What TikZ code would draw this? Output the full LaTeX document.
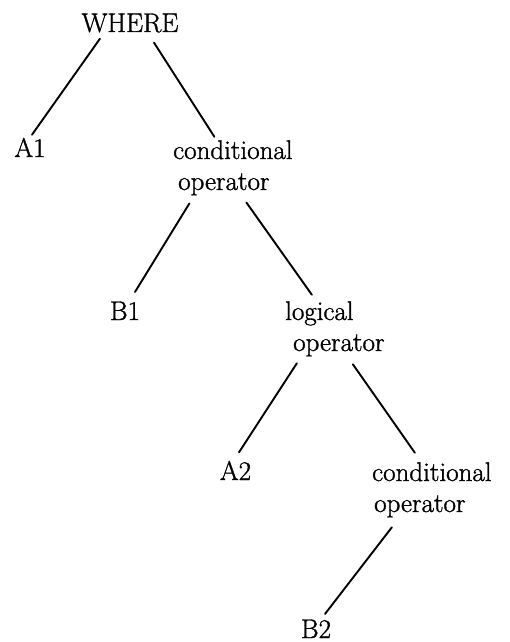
\documentclass[tikz,border=0pt]{standalone}
\usepackage{fontspec}
\newfontfamily\heavyrm{Latin Modern Roman}[FakeBold=1.2]
\newcommand\twoline[3]{\vtop{\hbox{#2}\hbox{\hspace{#1}#3}}}
\begin{document}
\begin{tikzpicture}[x=1pt,y=-1pt,
  lbl/.style={inner sep=0pt, font=\heavyrm\fontsize{27}{31}\selectfont},
  branch/.style={line width=1.9pt, line cap=round}]
\useasboundingbox (0,0) rectangle (509,642);
% tree labels
\node[lbl, anchor=base] (where) at (130,32) {WHERE};
\node[lbl, anchor=base] (a1) at (30,157) {A1};
\node[lbl, anchor=base west] (cond1) at (173,159) {\twoline{5pt}{conditional}{operator}};
\node[lbl, anchor=base] (b1) at (125,320) {B1};
\node[lbl, anchor=base west] (logic) at (285,320) {\twoline{8pt}{logical}{operator}};
\node[lbl, anchor=base] (a2) at (235.5,480) {A2};
\node[lbl, anchor=base west] (cond2) at (372,481) {\twoline{2pt}{conditional}{operator}};
\node[lbl, anchor=base] (b2) at (316,638) {B2};
% branches
\draw[branch] ([shift={(-30,6)}]where.south) -- ([shift={(2,-3)}]a1.north);
\draw[branch] ([shift={(24,10)}]where.south) -- ([shift={(-18.5,-3.3)}]cond1.north);
\draw[branch] ([shift={(-43.5,8)}]cond1.south) -- ([shift={(10,-9.4)}]b1.north);
\draw[branch] ([shift={(13.5,7)}]cond1.south) -- ([shift={(-23,-6.3)}]logic.north);
\draw[branch] ([shift={(-38,6.8)}]logic.south) -- ([shift={(3.5,-8.4)}]a2.north);
\draw[branch] ([shift={(18,7.8)}]logic.south) -- ([shift={(-17,-9.3)}]cond2.north);
\draw[branch] ([shift={(-40,9.8)}]cond2.south) -- ([shift={(9,-5.4)}]b2.north);
\end{tikzpicture}
\end{document}
